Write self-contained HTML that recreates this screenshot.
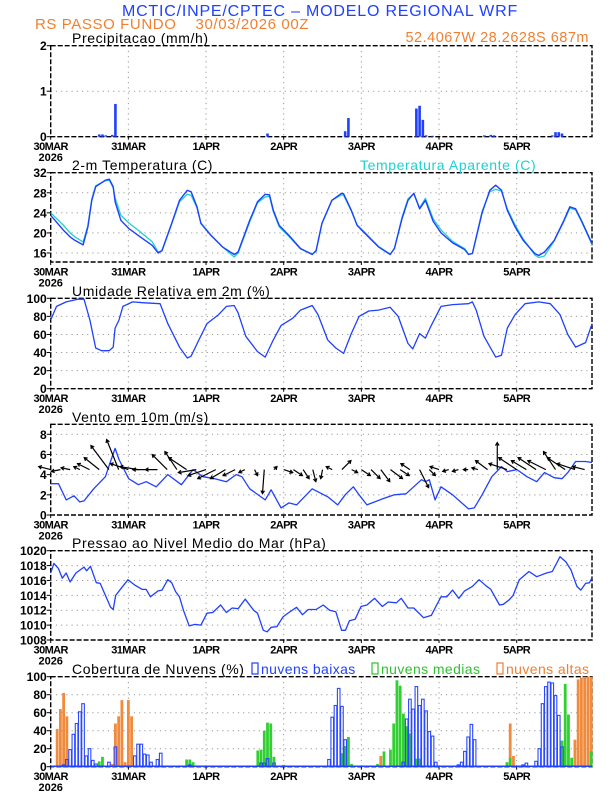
<!DOCTYPE html>
<html><head><meta charset="utf-8"><style>
html,body{margin:0;padding:0;background:#fff;}
svg{display:block;font-family:"Liberation Sans",sans-serif;}
.tk{font-size:12px;font-weight:bold;fill:#000;}
.dt{font-size:11px;font-weight:bold;fill:#000;}
.pt{font-size:14px;fill:#000;letter-spacing:0.6px;}
</style></head><body>
<svg id="chart" width="612" height="792" viewBox="0 0 612 792" xmlns="http://www.w3.org/2000/svg">
<text x="320" y="16" text-anchor="middle" font-size="16" fill="#2040ff" letter-spacing="0.8">MCTIC/INPE/CPTEC – MODELO REGIONAL WRF</text>
<text x="35" y="29" font-size="15" fill="#f08030" letter-spacing="0.6">RS PASSO FUNDO&#160;&#160;&#160;&#160;30/03/2026 00Z</text>
<text x="589" y="42" text-anchor="end" font-size="14.5" fill="#f08030" letter-spacing="0.5">52.4067W 28.2628S 687m</text>
</svg>
<script>
// ---------- data ----------
const dayLabels = ["30MAR","31MAR","1APR","2APR","3APR","4APR","5APR"];
const precipHours = [15,16,17,19,20,45,67,91,92,113,114,115,116,118,134,136,137,155,156,157,158];
const precipVals  = [0.05,0.05,0.03,0.04,0.72,0.01,0.07,0.12,0.41,0.62,0.68,0.37,0.03,0.02,0.03,0.04,0.03,0.03,0.1,0.1,0.07];
const tempHours = [0,4,6,7.5,10,11.5,12.7,13.9,16.9,18.1,19.3,19.9,21.7,24.1,27.7,31.4,33.2,34.4,37.4,39.8,42.2,43.4,45.2,46.4,49.5,53.1,56.7,57.9,61.5,63.9,66.3,67.6,68.8,70.6,73.6,77.2,80.8,82,83.8,86.9,89.9,90.5,92.9,94.7,97.7,101.3,104.9,106.2,108.6,110.4,112.2,114,115.8,118.2,120.6,124.2,127.9,129.1,130.3,133.3,135.7,137.5,139.3,141.1,143.5,146,149.6,150.8,152.6,155.6,158.6,160.4,162.2,164,165.9,167.3];
const tempVals = [23.5,20.5,19.2,18.5,17.6,21.2,26.5,29.2,30.5,30.7,29.2,26.2,22.5,20.9,19.2,17.5,16,16.5,21.9,26.5,28.5,28.2,25.2,21.9,19.5,17.2,15.7,16.2,22.5,26.2,27.7,27.6,24.5,21.5,19.5,16.9,15.7,16.5,21.9,26.5,27.9,27.8,24.5,21.5,19.5,17.2,15.7,16.9,22.9,26.5,27.9,24.8,26.5,22.3,20,18,16.7,15.7,15.9,24,28.5,29.5,28.5,24.5,21.2,18.5,15.9,15.5,16.2,18.5,22.5,25.2,24.8,22.5,19.8,17.8];
const appTempVals = [24,21.5,20,19.2,18.2,21.5,26.8,29.4,30.4,30.5,29,27,23.5,22,20.2,18.2,16.2,16.4,21.8,26.2,27.7,27.5,25,22,19.6,17.2,15.2,16,22.2,26,27.2,27.3,24.2,21.2,19.3,16.8,15.8,16.3,21.8,26.5,27.6,27.5,24.4,21.6,19.7,17.3,15.8,16.8,23.2,26.8,27.8,25,26.9,22.8,20.6,18.3,16.9,15.8,15.9,24.3,28.2,28.7,28.3,24.8,21.6,18.8,15.6,15.1,15.4,18.4,22.3,24.9,24.6,22.3,19.6,17.6];
const rhHours = [0,1.8,4.8,8.4,10.3,12.1,13.9,15.7,18.1,19.3,19.9,21.1,22.3,25.3,29,33.8,36.2,39.8,42.2,43.4,45.8,48.3,51.9,54.3,56.7,57.9,60.3,63.9,66.3,68.8,71.2,74.8,77.2,80.8,82.6,85.6,88.1,90.5,92.9,95.3,98.3,101.3,104.9,107.4,110.4,111.9,114,115.8,117.6,120.6,124.2,129.1,130.3,131.5,133.9,137.5,139.3,141.1,143.5,146.6,150.8,154.4,157.4,159.8,162.2,165.3,167.3];
const rhVals = [76,91,96,99,99,76,45,42,42,46,67,76,91,96,95,94,72,46,34,36,54,72,82,91,92,84,58,41,35,54,70,78,87,92,82,54,45,39,61,80,86,87,90,80,50,44,61,56,70,91,93,94,96,87,58,35,37,67,82,94,96,94,82,60,46,51,72];
const windHours = [0,2.4,4.8,7.2,9,10.3,13.3,16.9,18.7,19.9,21.1,24.1,27.1,29.5,32.6,36.2,40.4,44,47,50.7,54.3,57.3,59.1,61.5,66.3,68.1,71.2,73.6,76,80.8,85.6,88.7,91,93.5,95.3,97.7,102.5,106.2,109.8,114.6,115.8,117,118.8,120.6,124.2,129.1,130.9,133.3,136.3,139.3,141.1,144.1,147.2,150.2,152.6,155.6,158,159.8,162.2,165.3,167.3];
const windSpeed = [3.1,3.1,1.5,1.9,1.3,1.4,2.6,3.8,5.5,6.6,5.5,3.6,3.0,3.3,2.8,4.0,3.0,4.5,3.8,3.6,3.3,4.0,3.8,2.6,1.5,2.5,0.7,1.2,1.0,2.6,1.8,1.0,2.0,2.8,2.0,1.0,1.6,2.0,2.1,3.5,3.3,3.5,1.5,2.8,2.0,0.6,0.7,2.0,3.8,4.8,4.3,4.5,3.8,3.3,4.2,3.7,3.6,4.2,5.3,5.3,5.2];
const vecHours = [0,3,6,9,12,15,18,21,24,27,30,33,36,39,42,45,48,51,54,57,60,63,66,69,72,75,78,81,84,87,90,93,96,99,102,105,108,111,114,117,120,123,126,129,132,135,138,141,144,147,150,153,156,159,162,165];
const vecU = [-2,-1.5,-1.5,-1,-2,-2.5,-3,-2,-3,-3,-2.5,-2,-2.5,-2,-3,-3,-3,-3,-2.5,-2,-1,0.5,-0.3,0.5,1.5,1.5,1,0.5,-0.3,-1,1.5,1,1.5,1.5,1.5,2,1.5,-1.5,1.5,1,-1.5,-1,-1,-0.8,-1,-2,0,-3,-3,-2.5,-3,-3,-2,-3,-3,-2];
const vecV = [0.5,-0.3,0.3,0.5,1,2,4,5,1,0.5,0,0,2.5,3,2,-0.5,-1,-1.5,-1.5,-1,-0.5,-1,-4,0.5,-0.5,-1,-1.5,-2,-1.5,0.5,1.5,-0.5,-1,-1.5,-2,-1.5,-1,1,-3,-1,0.5,-0.3,-0.3,0,0.3,1.5,4.5,1,2,1.5,2,1.5,3,2,1,0.5];
const presHours = [0,1,2.4,3.6,4.8,6,7.8,10.3,11.1,12.3,14.1,15.3,16.9,18.5,19.3,20.1,21.7,23.9,25.9,28.3,29.5,30.8,33.2,34.4,36.2,37.4,38.6,39.8,41,42.8,44.6,46.4,48.3,50.1,52.5,54.3,56.1,57.9,60.1,62.7,63.9,65.7,66.9,68.1,69.9,71.8,73.6,76,77.8,79.6,82,84.2,86.2,88.1,89.9,91.1,92.3,94.1,95.9,97.7,100.1,102.5,104.3,106.8,108.3,110.4,112.2,115.2,117.6,118.8,120.6,122.4,124.2,126.1,127.9,130.3,132.4,134.5,136,138.7,139.9,141.7,142.9,144.8,147.8,150.2,153.2,155,157.4,159.2,160.8,162.6,163.8,165.3,166.5,167.3];
const presVals = [1017,1018.3,1017.6,1016.3,1017,1015.8,1017,1017.8,1017.3,1017.9,1015.7,1015.6,1014,1012.4,1012.1,1014,1014.9,1016.1,1015.4,1014.8,1014.8,1013.8,1014.6,1014.7,1016.1,1015.7,1014.5,1013.8,1012,1009.9,1010.1,1010,1011.6,1011.7,1012.7,1011.7,1012.3,1012.2,1013.5,1012,1011.6,1009.3,1009.1,1009.7,1009.8,1011.1,1011.7,1012.4,1011.4,1012.1,1012.1,1012.7,1012,1011.8,1009.3,1009.3,1010.6,1010.8,1012.5,1012.7,1013.6,1012.5,1013.1,1013,1013.6,1012.3,1012.3,1011,1011.3,1012.3,1013.8,1013.8,1014.7,1013.6,1014.6,1015.2,1016.1,1015.3,1014.8,1012.7,1012.8,1013.4,1014,1016.1,1017.2,1016.5,1017,1017.2,1019.2,1018.5,1017.4,1015.2,1014.7,1015.6,1015.7,1016.4];
const highHours = [2,3,4,5,19,20,21,22,23,24,25,102,142,143,162,163,164,165,166,167];
const highVals  = [42,64,82,56,3,48,56,74,5,74,56,12,48,12,30,97,99,100,100,100];
const midHours = [15,16,42,43,44,64,65,66,67,68,69,72,90,91,92,93,101,103,105,106,107,108,109,110,111,113,114,141,142,158,159,160,161,167];
const midVals  = [6,11,8,8,5,18,19,40,49,48,11,2,15,23,33,3,3,17,19,48,96,90,59,45,37,9,9,5,10,29,92,58,10,17];
const lowHours = [4,5,6,7,8,9,10,11,12,13,14,18,20,26,27,28,29,30,31,33,34,43,65,66,67,69,86,87,88,89,90,91,109,110,111,112,113,114,115,116,117,118,119,126,127,128,129,130,131,146,147,150,151,152,153,154,155,156,157,158];
const lowVals  = [2,8,19,36,48,61,70,12,20,7,3,5,22,12,25,25,14,13,5,8,15,2,4,4,9,4,8,55,68,87,67,30,5,53,75,64,89,68,75,62,39,34,5,2,5,17,33,47,30,2,4,6,20,70,89,94,93,79,57,22];

// ---------- helpers ----------
const NS = "http://www.w3.org/2000/svg";
const svg = document.getElementById("chart");
const X0 = 50.7, PXH = 3.236, XEND = 592;
function xh(h){ return X0 + h*PXH; }
function mk(tag, attrs, parent){
  const e = document.createElementNS(NS, tag);
  for (const k in attrs) e.setAttribute(k, attrs[k]);
  (parent||svg).appendChild(e);
  return e;
}
function yScale(top, bot, vmin, vmax){ return v => bot - (v - vmin)/(vmax - vmin)*(bot - top); }
function panel(name, top, bot, vmin, vmax, ticks, title, showYear){
  const g = mk("g", {});
  
  
  const ys = yScale(top, bot, vmin, vmax);
  for (let d = 1; d < 7; d++){
    const gl = mk("line", {x1:xh(d*24), x2:xh(d*24), y1:top, y2:bot, stroke:"#999", "stroke-width":1, "stroke-dasharray":"1.2,4"}, g);
    
    
  }
  ticks.forEach(t => {
    const y = ys(t);
    if (y > top + 1 && y < bot - 1){
      const hl = mk("line", {x1:X0, x2:XEND, y1:y, y2:y, stroke:"#999", "stroke-width":1, "stroke-dasharray":"1.2,4"}, g);
      
      
    }
    const tm = mk("line", {x1:X0-4, x2:X0, y1:y, y2:y, stroke:"#000", "stroke-width":1}, g);
    
    
    const tl = mk("text", {x:X0-4, y:y+4.5, "text-anchor":"end", class:"tk"}, g);
    tl.textContent = t;
    
    
  });
  const bx = mk("rect", {x:X0, y:top, width:XEND-X0, height:bot-top, fill:"none", stroke:"#000", "stroke-width":1.4, "stroke-dasharray":"5,2"}, g);
  
  
  dayLabels.forEach((lab, i) => {
    const tm = mk("line", {x1:xh(i*24), x2:xh(i*24), y1:bot, y2:bot+3, stroke:"#000"}, g);
    
    
    const tx = mk("text", {x:xh(i*24), y:bot+13.5, "text-anchor":"middle", class:"dt", "letter-spacing":"-0.6"}, g);
    tx.textContent = lab;
    
    
  });
  if (showYear){
    const yr = mk("text", {x:xh(0), y:bot+24.5, "text-anchor":"middle", class:"dt"}, g);
    yr.textContent = "2026";
    
    
  }
  const tt = mk("text", {x:72, y:top-2.5, class:"pt"}, g);
  tt.textContent = title;
  
  
  return {g, ys};
}
function line(g, hrs, vals, ys, color, name, w){
  const d = hrs.map((h,i) => (i?"L":"M") + xh(h).toFixed(1) + "," + ys(vals[i]).toFixed(1)).join("");
  const p = mk("path", {d, fill:"none", stroke:color, "stroke-width":w||1.4, "stroke-linejoin":"round"}, g);
  
  
  return p;
}
function bars(g, hrs, vals, ys, bot, color, hollow, name, w){
  hrs.forEach((h,i) => {
    const y = ys(vals[i]);
    const r = mk("rect", {x:xh(h) - w/2, y:y, width:w, height:Math.max(bot - y, 0.6),
      fill: hollow ? "none" : color, stroke: hollow ? color : "none", "stroke-width": hollow ? 1.1 : 0}, g);
    
    
  });
}

// ---------- panels ----------
const BLUE = "#2040ff";
let p = panel("precipitation", 45.7, 136.7, 0, 2, [0,1,2], "Precipitacao (mm/h)", true);
bars(p.g, precipHours, precipVals, p.ys, 136.7, BLUE, false, "precip-bar", 2.6);

p = panel("temperature", 172.7, 262, 14.2, 32, [16,20,24,28,32], "2-m Temperatura (C)", true);
const at = mk("text", {x:360, y:170, fill:"#20d0d0", "font-size":"14", "letter-spacing":"0.6"}, p.g);
at.textContent = "Temperatura Aparente (C)";


line(p.g, tempHours, appTempVals, p.ys, "#20d0d0", "apparent-temp-line", 1.3);
line(p.g, tempHours, tempVals, p.ys, BLUE, "temperature-line", 1.4);

p = panel("humidity", 298.3, 388.7, 0, 100, [0,20,40,60,80,100], "Umidade Relativa em 2m (%)", true);
line(p.g, rhHours, rhVals, p.ys, BLUE, "humidity-line", 1.3);

p = panel("wind", 424.3, 515, 0, 8.99, [0,2,4,6,8], "Vento em 10m (m/s)", true);
line(p.g, windHours, windSpeed, p.ys, BLUE, "wind-speed-line", 1.3);
const baseY = p.ys(4.5), ASC = 6;
vecHours.forEach((h,i) => {
  const x1 = xh(h), y1 = baseY, x2 = x1 + vecU[i]*ASC, y2 = y1 - vecV[i]*ASC;
  const ang = Math.atan2(y2-y1, x2-x1);
  const a1 = ang + 2.6, a2 = ang - 2.6;
  const d = `M${x1},${y1}L${x2},${y2}M${x2+3.5*Math.cos(a1)},${y2+3.5*Math.sin(a1)}L${x2},${y2}L${x2+3.5*Math.cos(a2)},${y2+3.5*Math.sin(a2)}`;
  const v = mk("path", {d, stroke:"#000", "stroke-width":1.2, fill:"none"}, p.g);
  
  
});

p = panel("pressure", 550.7, 640, 1008, 1020, [1008,1010,1012,1014,1016,1018,1020], "Pressao ao Nivel Medio do Mar (hPa)", true);
line(p.g, presHours, presVals, p.ys, BLUE, "pressure-line", 1.3);

p = panel("clouds", 676.7, 766.7, 0, 100, [0,20,40,60,80,100], "Cobertura de Nuvens (%)", true);
bars(p.g, highHours, highVals, p.ys, 766.7, "#f08a3c", false, "high-cloud-bar", 2.8);
bars(p.g, midHours, midVals, p.ys, 766.7, "#30d030", false, "mid-cloud-bar", 2.8);
bars(p.g, lowHours, lowVals, p.ys, 766.7, "#2a48ff", true, "low-cloud-bar", 2.6);
const bl = mk("line", {x1:X0, x2:XEND, y1:766.2, y2:766.2, stroke:BLUE, "stroke-width":1.5}, p.g);


const legs = [["nuvens baixas","#2040ff",252],["nuvens medias","#30c030",372],["nuvens altas","#f08030",497]];
legs.forEach(l => {
  const r = mk("rect", {x:l[2], y:663, width:6, height:11, fill:"none", stroke:l[1], "stroke-width":1.2}, p.g);
  
  
  const t = mk("text", {x:l[2]+9, y:674, fill:l[1], "font-size":"14", "letter-spacing":"0.4"}, p.g);
  t.textContent = l[0];
  
  
});
</script>
</body></html>
